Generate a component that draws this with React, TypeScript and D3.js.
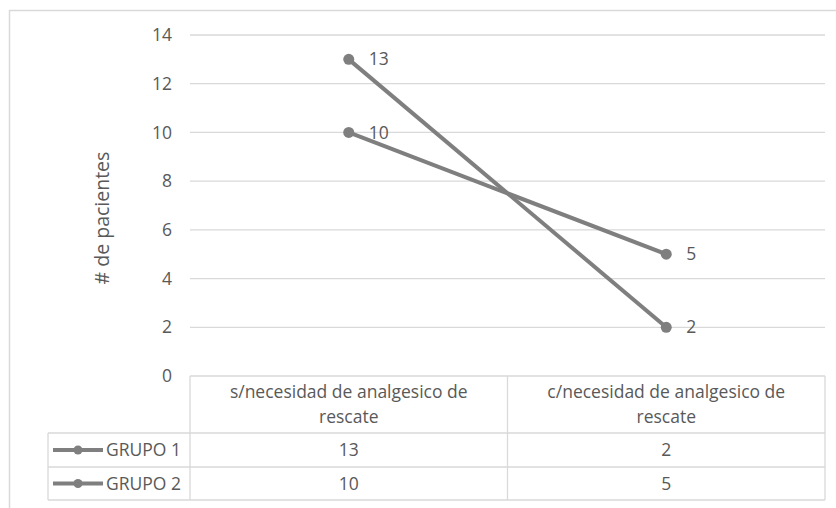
import React from "react";
import * as d3 from "d3";

const categories = ["s/necesidad de analgesico de rescate", "c/necesidad de analgesico de rescate"];
const categoryLines = [
  ["s/necesidad de analgesico de", "rescate"],
  ["c/necesidad de analgesico de", "rescate"],
];
const seriesNames = ["GRUPO 1", "GRUPO 2"];
const grupo1 = [13, 2];
const grupo2 = [10, 5];
const yTicks = [0, 2, 4, 6, 8, 10, 12, 14];

const W = 836;
const H = 508;
const plotLeft = 190;
const plotRight = 825;
const plotTop = 35;
const plotBottom = 376;
const headerBottom = 433;
const row1Bottom = 467;
const row2Bottom = 500;
const tableLeft = 48;

const textColor = "#595959";
const gridColor = "#d9d9d9";
const lineColor = "#7f7f7f";
const font = "'Open Sans', sans-serif";
const fs = 17.5;

export default function App() {
  const x = d3.scaleBand<string>().domain(categories).range([plotLeft, plotRight]);
  const y = d3.scaleLinear().domain([0, 14]).range([plotBottom, plotTop]);
  const cx = (c: string) => (x(c) ?? 0) + x.bandwidth() / 2;
  const line = d3
    .line<number>()
    .x((_, i) => cx(categories[i]))
    .y((d) => y(d));
  const series = [grupo1, grupo2];
  const rowBounds = [
    [headerBottom, row1Bottom],
    [row1Bottom, row2Bottom],
  ];

  return (
    <svg
      width={W}
      height={H}
      style={{ position: "absolute", left: 0, top: 0, background: "#fff" }}
      fontFamily={font}
    >
      <rect x={9.5} y={10.5} width={W + 10} height={H + 10} fill="#fff" stroke="#d9d9d9" strokeWidth={1.5} />

      {/* gridlines and y tick labels */}
      {yTicks.map((t) =>
        t === 0 ? null : (
          <line key={"g" + t} x1={plotLeft} x2={plotRight} y1={y(t)} y2={y(t)} stroke={gridColor} strokeWidth={1.3} />
        )
      )}
      {yTicks.map((t) => (
        <text key={"t" + t} x={172} y={y(t)} dy="0.35em" textAnchor="end" fontSize={fs} fill={textColor}>
          {t}
        </text>
      ))}

      <text
        transform={`translate(109,218) rotate(-90)`}
        textAnchor="middle"
        fontSize={19.5}
        fill={textColor}
      >
        # de pacientes
      </text>

      {/* data table */}
      <g stroke={gridColor} strokeWidth={1.3} fill="none">
        <line x1={plotLeft} x2={plotRight} y1={plotBottom} y2={plotBottom} />
        <line x1={tableLeft} x2={plotRight} y1={headerBottom} y2={headerBottom} />
        <line x1={tableLeft} x2={plotRight} y1={row1Bottom} y2={row1Bottom} />
        <line x1={tableLeft} x2={plotRight} y1={row2Bottom} y2={row2Bottom} />
        <line x1={tableLeft} x2={tableLeft} y1={headerBottom} y2={row2Bottom} />
        <line x1={plotLeft} x2={plotLeft} y1={plotBottom} y2={row2Bottom} />
        <line x1={plotRight} x2={plotRight} y1={plotBottom} y2={row2Bottom} />
        {categories.slice(1).map((c) => (
          <line key={c} x1={x(c)} x2={x(c)} y1={plotBottom} y2={row2Bottom} />
        ))}
      </g>
      {categories.map((c, i) => (
        <text key={c} x={cx(c)} y={392} textAnchor="middle" fontSize={fs} fill={textColor}>
          {categoryLines[i].map((l, j) => (
            <tspan key={j} x={cx(c)} dy={j === 0 ? "0.35em" : 25}>
              {l}
            </tspan>
          ))}
        </text>
      ))}
      {series.map((s, si) => {
        const [top, bottom] = rowBounds[si];
        const my = (top + bottom) / 2;
        return (
          <g key={seriesNames[si]}>
            <line x1={53} x2={103} y1={my} y2={my} stroke={lineColor} strokeWidth={4} />
            <circle cx={78} cy={my} r={4.5} fill={lineColor} />
            <text x={106} y={my} dy="0.35em" fontSize={fs} fill={textColor}>
              {seriesNames[si]}
            </text>
            {s.map((v, i) => (
              <text key={i} x={cx(categories[i])} y={my} dy="0.35em" textAnchor="middle" fontSize={fs} fill={textColor}>
                {v}
              </text>
            ))}
          </g>
        );
      })}

      {/* series lines with markers and value labels */}
      {series.map((s, si) => (
        <g key={"s" + si}>
          <path d={line(s) ?? ""} fill="none" stroke={lineColor} strokeWidth={4} />
          {s.map((v, i) => (
            <g key={i}>
              <circle cx={cx(categories[i])} cy={y(v)} r={5.5} fill={lineColor} />
              <text x={cx(categories[i]) + 20} y={y(v)} dy="0.35em" fontSize={fs} fill={textColor}>
                {v}
              </text>
            </g>
          ))}
        </g>
      ))}
    </svg>
  );
}
